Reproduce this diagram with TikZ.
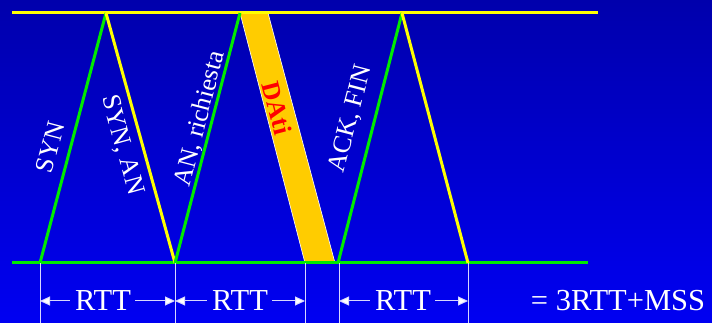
\documentclass[tikz,border=0pt]{standalone}
\usepackage{fontspec}
\setmainfont{Liberation Serif}
\usetikzlibrary{arrows.meta}
\definecolor{bgtop}{RGB}{0,0,172}
\definecolor{bgbot}{RGB}{0,0,242}
\definecolor{lgreen}{RGB}{0,235,0}
\definecolor{lyellow}{RGB}{255,255,0}
\definecolor{band}{RGB}{255,204,0}
\definecolor{dred}{RGB}{255,0,0}
\definecolor{arrcol}{RGB}{215,215,255}
\tikzset{
  greenline/.style={draw=lgreen,line width=3pt},
  yellowline/.style={draw=lyellow,line width=3pt},
  tickline/.style={draw=arrcol,line width=0.8pt},
  arr/.style={draw=arrcol,line width=1pt,-{Triangle[length=10pt,width=9pt,fill=white]}},
  lbl/.style={text=white,font=\fontsize{26}{26}\selectfont,inner sep=0pt},
  big/.style={text=white,font=\fontsize{30.5}{30.5}\selectfont,inner sep=0pt},
}
\begin{document}
\begin{tikzpicture}[x=1pt,y=1pt]
\shade[top color=bgtop,bottom color=bgbot] (0,0) rectangle (712,323);
\useasboundingbox (0,0) rectangle (712,323);
% coordinates
\coordinate (tl) at (12,310);
\coordinate (tr) at (598,310);
\coordinate (bl) at (12,60);
\coordinate (br) at (588,60);
\coordinate (b1) at (40,60);
\coordinate (t1) at (106,310);
\coordinate (b2) at (175,60);
\coordinate (t2) at (240,310);
\coordinate (t2r) at (268,310);
\coordinate (b3l) at (305,60);
\coordinate (b3r) at (335,60);
\coordinate (b4) at (338,60);
\coordinate (t3) at (402,310);
\coordinate (b5) at (468,60);
\coordinate (b4t) at (339,60);
% band
\fill[band,draw=white,line width=0.6pt] (t2) -- (t2r) -- (b3r) -- (b3l) -- cycle;
% baselines
\draw[yellowline] (tl) -- (tr);
\draw[greenline] (bl) -- (br);
% messages
\draw[greenline] (b1) -- (t1);
\draw[yellowline] (t1) -- (b2);
\draw[greenline] (b2) -- (t2);
\draw[greenline] (b4) -- (t3);
\draw[yellowline] (t3) -- (b5);
% ticks
\coordinate (k1) at (40,0);
\coordinate (k2) at (175,0);
\coordinate (k3) at (305,0);
\coordinate (k4) at (339,0);
\coordinate (k5) at (468,0);
\draw[tickline] (b1) -- (k1);
\draw[tickline] (b2) -- (k2);
\draw[tickline] (b3l) -- (k3);
\draw[tickline] (b4t) -- (k4);
\draw[tickline] (b5) -- (k5);
% labels
\node[lbl,rotate=75.2] (syn) at (50,176) {SYN};
\node[lbl,rotate=-74.6] (synan) at (122,178) {SYN, AN};
\node[lbl,rotate=75.4] (anr) at (200,204) {AN, richiesta};
\node[text=dred,font=\fontsize{26}{26}\selectfont\bfseries,inner sep=0pt,rotate=-75.4] (dati) at (277,215) {DAti};
\node[lbl,rotate=75.4] (ackfin) at (351,204) {ACK, FIN};
% RTT arrows
\coordinate (a1l) at (40,22);
\coordinate (a1r) at (175,22);
\coordinate (a2l) at (175,22);
\coordinate (a2r) at (305,22);
\coordinate (a3l) at (339,22);
\coordinate (a3r) at (468,22);
\node[big] (r1) at (103,22) {RTT};
\node[big] (r2) at (240,22) {RTT};
\node[big] (r3) at (403,22) {RTT};
\draw[arr] ([xshift=-5pt]r1.west) -- (a1l);
\draw[arr] ([xshift=4pt]r1.east) -- (a1r);
\draw[arr] ([xshift=-5pt]r2.west) -- (a2l);
\draw[arr] ([xshift=4pt]r2.east) -- (a2r);
\draw[arr] ([xshift=-5pt]r3.west) -- (a3l);
\draw[arr] ([xshift=4pt]r3.east) -- (a3r);
\node[big] (tot) at (618,22) {= 3RTT+MSS};
\end{tikzpicture}
\end{document}
